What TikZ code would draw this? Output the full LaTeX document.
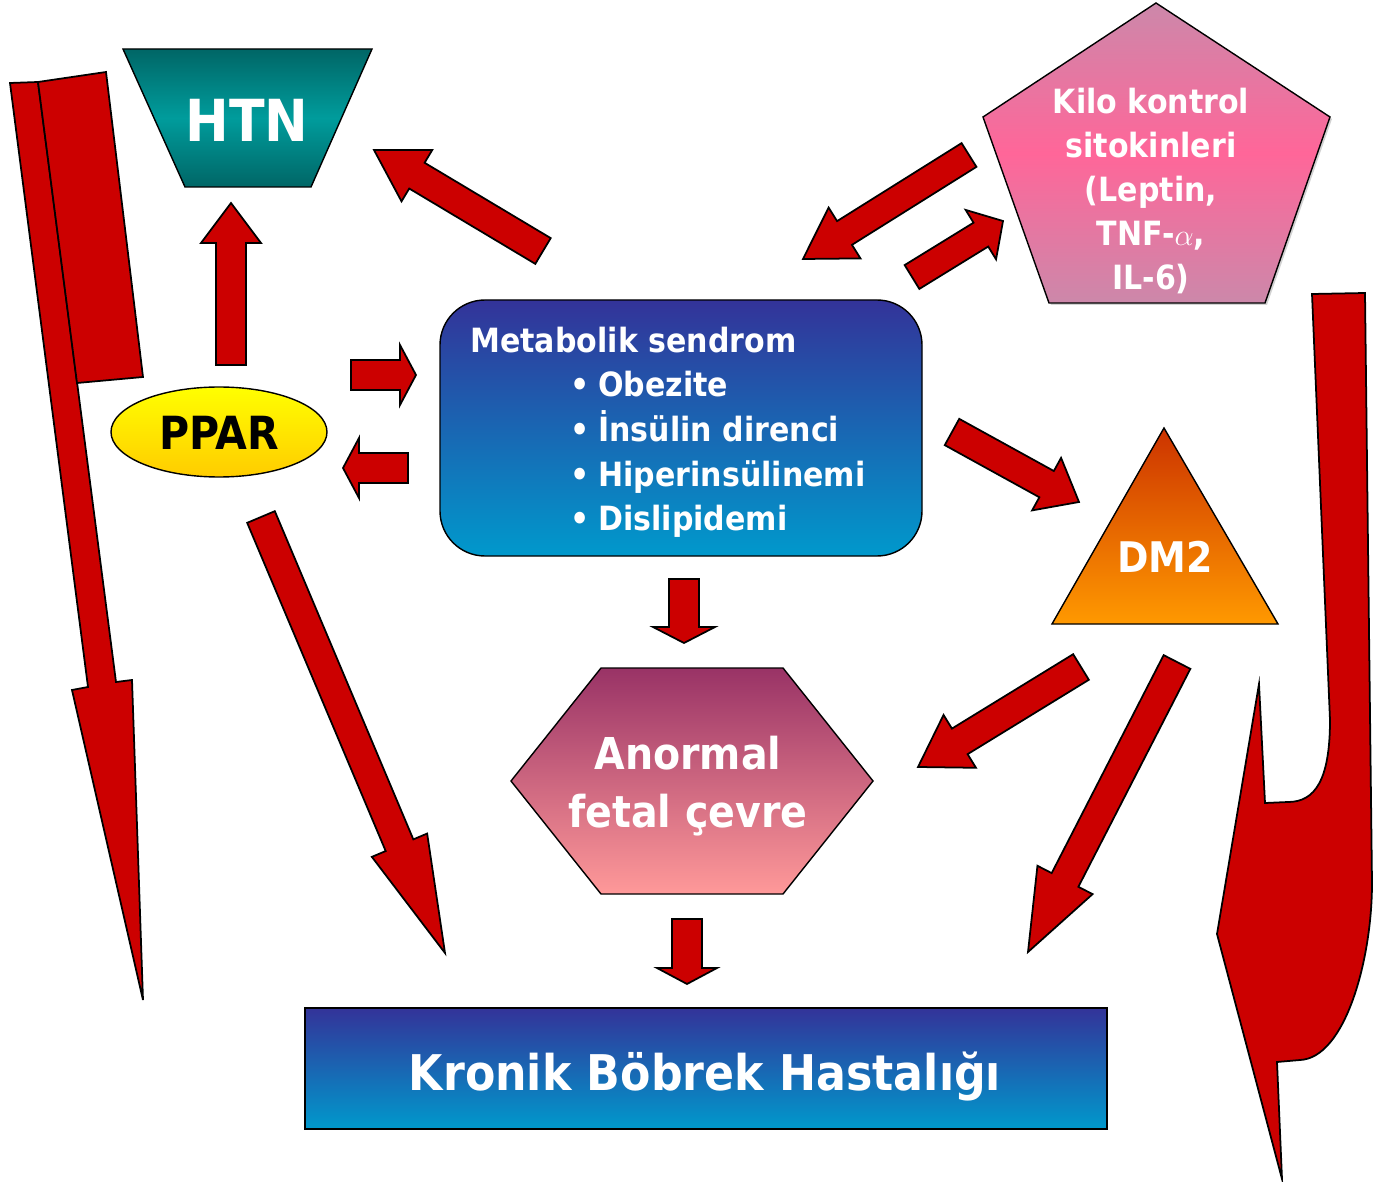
\documentclass[tikz,border=0pt]{standalone}
\usepackage{fontspec}
\setmainfont{DejaVu Sans}[FakeStretch=0.9]
\usetikzlibrary{calc}

\definecolor{arrowred}{HTML}{CC0000}
\definecolor{htndark}{HTML}{006666}
\definecolor{htnlight}{HTML}{009C9C}
\definecolor{blueTop}{HTML}{333399}
\definecolor{blueBottom}{HTML}{0099CC}
\definecolor{pentEdge}{HTML}{CC88AA}
\definecolor{pentMid}{HTML}{FF6699}
\definecolor{dmTop}{HTML}{CC3300}
\definecolor{dmBottom}{HTML}{FF9900}
\definecolor{hexTop}{HTML}{993366}
\definecolor{hexBottom}{HTML}{FF9999}

\tikzset{
    redarrow/.style={fill=arrowred, draw=black, line width=1pt, line join=miter},
    shapeline/.style={draw=black, line width=0.8pt},
    whitetext/.style={text=white, inner sep=0pt},
}

% block arrow: tail, tip, half shaft width, half head width, head length (px)
\newcommand{\blockarrow}[5]{%
    \coordinate (ba-neck) at ($(#2)!#5*0.02cm!(#1)$);
    \draw[redarrow] ($(#1)!#3*0.02cm!90:(#2)$) -- ($(ba-neck)!#3*0.02cm!-90:(#1)$)
        -- ($(ba-neck)!#4*0.02cm!-90:(#1)$) -- (#2)
        -- ($(ba-neck)!#4*0.02cm!90:(#1)$) -- ($(ba-neck)!#3*0.02cm!90:(#1)$)
        -- ($(#1)!#3*0.02cm!-90:(#2)$) -- cycle;
}

\begin{document}
\begin{tikzpicture}[x=0.02cm, y=-0.02cm]

    \useasboundingbox (0,0) rectangle (1373,1182);

    % Long arrows at the sides
    \draw[redarrow] (10,83) -- (38,82) -- (116,682) -- (132,680) -- (143,1000) -- (72,690) -- (88,687) -- cycle;
    \draw[redarrow] (38,82) -- (106,72) -- (143,377) -- (77,383) -- cycle;
    \draw[redarrow] (1312,294) -- (1365,293) -- (1372,883) .. controls (1372,960) and (1345,1058) .. (1300,1060)
        -- (1277,1062) -- (1282,1179) -- (1217,934) -- (1259,684) -- (1265,803) -- (1288,802)
        .. controls (1315,802) and (1330,780) .. (1330,720) -- cycle;

    % HTN trapezoid
    \shadedraw[shapeline, top color=htndark, bottom color=htndark, middle color=htnlight]
        (123,49) -- (372,49) -- (311,187) -- (185,187) -- cycle;
    \node[whitetext, font=\fontsize{33}{40}\selectfont\bfseries] (htn) at (247,120) {HTN};

    % PPAR ellipse
    \shadedraw[shapeline, top color=yellow, bottom color={rgb,255:red,255;green,204;blue,0}]
        (219,432) ellipse [x radius=108, y radius=45];
    \node[inner sep=0pt, font=\fontsize{26}{30}\selectfont\bfseries] (ppar) at (219,433) {PPAR};

    % Metabolik sendrom box
    \shadedraw[shapeline, rounded corners=0.9cm, top color=blueTop, bottom color=blueBottom]
        (440,300) rectangle (922,556);
    \node[whitetext, anchor=base west, font=\fontsize{19}{23}\selectfont\bfseries] (metab) at (470,353) {Metabolik sendrom};
    \foreach \t [count=\i] in {Obezite, İnsülin direnci, Hiperinsülinemi, Dislipidemi}
        \node[whitetext, anchor=base west, font=\fontsize{19}{23}\selectfont\bfseries] (item\i) at (570,{397+44.5*(\i-1)}) {\textbullet\hspace{5pt}\t};

    % Pentagon with cytokines
    \fill[gray!35] (1158,5) -- (1332,119) -- (1267,305) -- (1051,305) -- (985,119) -- cycle;
    \shadedraw[shapeline, top color=pentEdge, bottom color=pentEdge, middle color=pentMid]
        (1156,3) -- (1330,117) -- (1265,303) -- (1049,303) -- (983,117) -- cycle;
    \node[whitetext, align=center, font=\fontsize{19}{25}\selectfont\bfseries] (kilo) at (1151,191)
        {Kilo kontrol\\sitokinleri\\(Leptin,\\TNF-$\alpha$,\\IL-6)};

    % DM2 triangle
    \shadedraw[shapeline, top color=dmTop, bottom color=dmBottom]
        (1164,428) -- (1278,624) -- (1052,624) -- cycle;
    \node[whitetext, font=\fontsize{24}{28}\selectfont\bfseries] (dm) at (1165,557) {DM2};

    % Anormal fetal cevre hexagon
    \shadedraw[shapeline, top color=hexTop, bottom color=hexBottom]
        (601,668) -- (783,668) -- (873,781) -- (783,894) -- (601,894) -- (511,781) -- cycle;
    \node[whitetext, align=center, font=\fontsize{25}{33}\selectfont\bfseries] (fetal) at (688,786)
        {Anormal\\fetal çevre};

    % Kronik bobrek box
    \shadedraw[shapeline, top color=blueTop, bottom color=blueBottom]
        (305,1008) rectangle (1107,1129);
    \node[whitetext, anchor=base, font=\fontsize{28}{32}\selectfont\bfseries] (kbh) at (705,1090)
        {Kronik Böbrek Hastalığı};

    % Block arrows
    \blockarrow{231,365}{231,203}{15}{30}{40}
    \blockarrow{543,251}{374,150}{15}{30}{50}
    \blockarrow{351,375}{416,375}{15}{30}{16}
    \blockarrow{408,468}{343,468}{15}{30}{16}
    \blockarrow{969,155}{803,259}{14}{30}{49}
    \blockarrow{912,277}{1003,221}{14}{29}{26}
    \blockarrow{952,432}{1079,502}{15}{30}{37}
    \blockarrow{684,579}{684,643}{15}{31}{16}
    \blockarrow{1081,667}{918,767}{15}{31}{49}
    \blockarrow{1177,662}{1028,952}{15}{31}{81}
    \blockarrow{261,517}{445,953}{15}{30}{117}
    \blockarrow{687,919}{687,984}{15}{30}{16}

\end{tikzpicture}
\end{document}
